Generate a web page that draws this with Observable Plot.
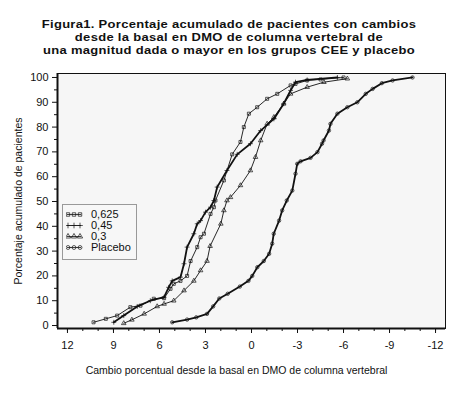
<!DOCTYPE html>
<html><head><meta charset="utf-8">
<script src="https://cdn.jsdelivr.net/npm/d3@7"></script>
<script src="https://cdn.jsdelivr.net/npm/@observablehq/plot@0.6"></script>
<style>
body{margin:0;background:#fff;font-family:"Liberation Sans",Arial,sans-serif;}
#wrap{position:relative;width:472px;height:395px;overflow:hidden;}
#wrap svg.plot{position:absolute;left:0;top:0;}
#title{position:absolute;left:0;top:18px;width:458px;text-align:center;font-weight:bold;font-size:13px;line-height:13px;letter-spacing:0.3px;color:#111;}
#title div{height:13px;transform:scaleY(0.85);transform-origin:50% 50%;}
#legend{position:absolute;left:62px;top:204px;width:73px;height:54px;border:1px solid #999;background:#f7f7f7;font-size:11px;color:#111;}
.lrow{position:absolute;left:3px;height:11px;line-height:11px;white-space:nowrap;}
.lrow svg{position:absolute;left:0;top:0;}
.lrow span{position:absolute;left:25px;top:0;}
</style></head>
<body><div id="wrap">
<div id="title"></div>
<div id="legend"></div>
</div>
<script>
const titleLines = [
  "Figura1. Porcentaje acumulado de pacientes con cambios",
  "desde la basal en DMO de columna vertebral de",
  "una magnitud dada o mayor en los grupos CEE y placebo"
];
const xLabel = "Cambio porcentual desde la basal en DMO de columna vertebral";
const yLabel = "Porcentaje acumulado de pacientes";
const categories = ["0,625", "0,45", "0,3", "Placebo"];
const symbols = ["square", "plus", "triangle", "circle"];
const xTicks = [12, 9, 6, 3, 0, -3, -6, -9, -12];
const xMinor = [12,11,10,9,8,7,6,5,4,3,2,1,0,-1,-2,-3,-4,-5,-6,-7,-8,-9,-10,-11,-12];
const yTicks = [0, 10, 20, 30, 40, 50, 60, 70, 80, 90, 100];
const yMinor = [5, 15, 25, 35, 45, 55, 65, 75, 85, 95];

// 0,625 (cuadrados)
const x625 = [10.3,9.5,8.76,7.9,7.24,6.37,5.7,5.28,5.07,4.63,4.2,3.97,3.54,3.32,3.1,2.67,2.45,2.35,1.8,1.26,0.72,0.5,0.17,-0.37,-1.02,-1.68,-2.55,-2.87,-3.63,-4.5,-6.0];
const y625 = [1.3,2.7,4,7.4,8,10.8,11,14.8,16.8,18,20,26,31.6,35.6,37,45,47.7,50.4,58.5,69,74,80,85.4,88,91.4,93.4,96.8,97.4,98.8,99.2,100];
// 0,45 (línea gruesa)
const x045 = [8.98,8.33,7.45,6.6,5.7,5.4,5.17,4.63,4.4,4.2,3.76,3.54,3.32,3.0,2.67,2.45,2.24,1.6,0.93,0.07,-0.6,-1.46,-2.1,-2.55,-2.87,-3.63,-5.6];
const y045 = [1.3,4,7.7,10,11.4,15.4,18,19.5,24.9,31.6,37,41,42.3,45.7,47.7,50.4,55.8,62.5,69,73.3,78.6,83.3,89.4,94.8,98.1,99,100];
// 0,3 (triángulos)
const x03 = [8.33,7.8,7.0,6.15,5.7,5.07,4.4,3.76,3.32,2.9,2.7,2.0,1.8,1.6,1.37,0.72,0.07,-0.26,-0.6,-1.02,-1.46,-2.1,-2.55,-3.63,-4.72,-6.25];
const y03 = [0.9,2.3,4.7,7.7,8.7,10,14.1,18,22.2,26,32,41,46.4,50.4,51.7,56.5,62.5,67.9,74.6,81.3,84,89.4,93.4,96.1,98.1,99.5];
// Placebo (círculos)
const xPla = [5.17,4.2,3.6,2.9,2.5,2.1,1.55,0.76,0.2,-0.05,-0.38,-0.8,-1.15,-1.35,-1.45,-1.8,-2.0,-2.3,-2.66,-2.87,-2.98,-3.2,-3.85,-4.3,-4.6,-4.7,-5.05,-5.15,-5.6,-6.25,-6.9,-7.45,-7.9,-8.5,-9.2,-10.5];
const yPla = [1.3,2.4,3.3,4.7,7.7,10.9,12.8,15.7,18,20,23.5,26,28.9,33,37,42.3,46.4,50.4,54.4,61.2,65.2,66.2,67.6,69.9,73.3,74.6,78.6,81.3,85.4,88,90,93.4,95.4,97.7,98.8,100];

const seriesX = [x625, x045, x03, xPla];
const seriesY = [y625, y045, y03, yPla];
const lineWidths = [0.9, 1.8, 0.9, 1.8];

const data = categories.map((c, i) => seriesX[i].map((x, j) => ({grupo: c, x, y: seriesY[i][j]})));

const ink = "#111";
const marks = [
  Plot.frame({fill: "#f6f6f6", stroke: ink, strokeWidth: 1})
];
data.forEach((rows, i) => {
  marks.push(Plot.line(rows, {x: "x", y: "y", stroke: ink, strokeWidth: lineWidths[i]}));
});
data.forEach((rows, i) => {
  marks.push(Plot.dot(rows, {x: "x", y: "y", symbol: symbols[i], r: 1.7, stroke: ink, strokeWidth: 0.7, fill: "none"}));
});
marks.push(
  Plot.ruleX([12.65], {stroke: ink, strokeWidth: 2}),
  Plot.ruleY([-1.2], {stroke: ink, strokeWidth: 2}),
  Plot.axisX(xTicks, {tickSize: 5, tickPadding: 8, fontSize: 11, tickFormat: d => String(d), label: null, stroke: ink, fill: ink}),
  Plot.axisX(xMinor, {tickSize: 3, tickFormat: () => "", label: null, stroke: ink}),
  Plot.axisY(yTicks, {tickSize: 5, tickPadding: 4, fontSize: 11, tickFormat: d => String(d), label: null, stroke: ink, fill: ink}),
  Plot.axisY(yMinor, {tickSize: 3, tickFormat: () => "", label: null, stroke: ink}),
  Plot.text([yLabel], {frameAnchor: "left", dx: -39, rotate: -90, textAnchor: "middle", lineAnchor: "middle", text: d => d, fontSize: 10.5, fill: ink}),
  Plot.text([xLabel], {frameAnchor: "bottom", dy: 42, dx: -15, textAnchor: "middle", lineAnchor: "middle", text: d => d, fontSize: 10.5, fill: ink})
);

const chart = Plot.plot({
  width: 472, height: 395,
  marginTop: 73, marginBottom: 67, marginLeft: 57, marginRight: 27,
  x: {domain: [12.65, -12.65]},
  y: {domain: [-1.2, 101.6]},
  style: {fontFamily: "'Liberation Sans', Arial, sans-serif", fontSize: "11px", background: "transparent", color: ink},
  marks
});
chart.classList.add("plot");
const wrap = document.getElementById("wrap");
wrap.insertBefore(chart, wrap.firstChild);

document.getElementById("title").innerHTML = titleLines.map(t => `<div>${t}</div>`).join("");

const legend = d3.select("#legend");
const symFns = [d3.symbolSquare, d3.symbolPlus || d3.symbolCross, d3.symbolTriangle, d3.symbolCircle];
const rowTops = [4, 15, 26, 37];
categories.forEach((c, i) => {
  const row = legend.append("div").attr("class", "lrow").style("top", rowTops[i] + "px");
  const s = row.append("svg").attr("width", 18).attr("height", 11);
  s.append("line").attr("x1", 1).attr("x2", 15).attr("y1", 5.5).attr("y2", 5.5).attr("stroke", ink).attr("stroke-width", 0.8);
  [2, 8, 14].forEach(px => {
    s.append("path").attr("d", d3.symbol(symFns[i], 12)()).attr("transform", `translate(${px},5.5)`)
      .attr("fill", "none").attr("stroke", ink).attr("stroke-width", 0.7);
  });
  row.append("span").text(c);
});
</script>
</body></html>
